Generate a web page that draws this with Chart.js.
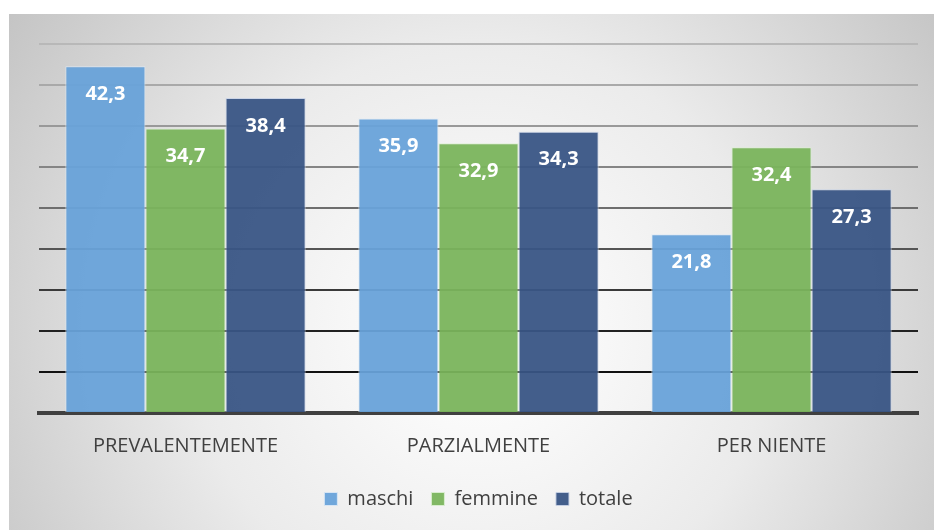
<!doctype html>
<html lang="it">
  <head>
    <meta charset="utf-8">
    <title>Grafico</title>
    <style>
      * { margin: 0; padding: 0; }
      body { width: 934px; height: 530px; background: #fff; overflow: hidden; }
      .chartBox { width: 934px; height: 530px; }
    </style>
  </head>
  <body>
    <div class="chartBox">
      <canvas id="myChart"></canvas>
    </div>
    <script src="https://cdn.jsdelivr.net/npm/chart.js/dist/chart.umd.min.js"></script>
    <script>
// data
const categories = ['PREVALENTEMENTE', 'PARZIALMENTE', 'PER NIENTE'];
const maschi = [42.3, 35.9, 21.8];
const femmine = [34.7, 32.9, 32.4];
const totale = [38.4, 34.3, 27.3];
const seriesNames = ['maschi', 'femmine', 'totale'];

const FONT = '"Open Sans", sans-serif';

// grey panel with a soft radial shade
const panelBackground = {
  id: 'panelBackground',
  beforeDraw(chart) {
    const ctx = chart.ctx;
    ctx.save();
    ctx.fillStyle = '#ffffff';
    ctx.fillRect(0, 0, chart.width, chart.height);
    const g = ctx.createRadialGradient(480, 330, 20, 480, 330, 620);
    g.addColorStop(0, '#ffffff');
    g.addColorStop(0.45, '#ebebeb');
    g.addColorStop(1, '#bdbdbd');
    ctx.fillStyle = g;
    ctx.fillRect(9, 14, chart.width - 9, chart.height - 14);
    ctx.restore();
  }
};

// value labels inside the top of each bar
const barValues = {
  id: 'barValues',
  afterDatasetsDraw(chart) {
    const ctx = chart.ctx;
    ctx.save();
    ctx.fillStyle = '#ffffff';
    ctx.font = 'bold 20px ' + FONT;
    ctx.textAlign = 'center';
    ctx.textBaseline = 'middle';
    chart.data.datasets.forEach((ds, i) => {
      chart.getDatasetMeta(i).data.forEach((bar, j) => {
        ctx.fillText(ds.data[j].toFixed(1).replace('.', ','), bar.x, bar.y + 28);
      });
    });
    ctx.restore();
  }
};

const gridColors = ['#000000', '#111111', '#222222', '#3a3a3a', '#555555', '#6e6e6e', '#858585', '#999999', '#a9a9a9', '#b8b8b8'];

const data = {
  labels: categories,
  datasets: [{
    label: seriesNames[0],
    data: maschi,
    backgroundColor: 'rgba(104, 162, 217, 0.95)',
    borderColor: 'rgba(220, 232, 245, 0.9)',
    borderWidth: 1
  }, {
    label: seriesNames[1],
    data: femmine,
    backgroundColor: 'rgba(122, 180, 92, 0.95)',
    borderColor: 'rgba(220, 240, 210, 0.9)',
    borderWidth: 1
  }, {
    label: seriesNames[2],
    data: totale,
    backgroundColor: 'rgba(57, 85, 133, 0.95)',
    borderColor: 'rgba(200, 210, 230, 0.9)',
    borderWidth: 1
  }]
};

const config = {
  type: 'bar',
  data,
  plugins: [panelBackground, barValues],
  options: {
    responsive: false,
    animation: false,
    layout: { padding: { left: 39, right: 16, top: 44, bottom: 11 } },
    datasets: {
      bar: { barPercentage: 1, categoryPercentage: 0.82 }
    },
    plugins: {
      tooltip: { enabled: false },
      legend: {
        position: 'bottom',
        labels: {
          boxWidth: 13,
          boxHeight: 13,
          padding: 18,
          color: '#404040',
          font: { family: FONT, size: 20 }
        }
      }
    },
    scales: {
      x: {
        grid: { display: false },
        border: { display: true, color: '#404040', width: 4 },
        ticks: {
          color: '#404040',
          padding: 13,
          font: { family: FONT, size: 20 }
        }
      },
      y: {
        min: 0,
        max: 45,
        ticks: { display: false, stepSize: 5 },
        border: { display: false },
        grid: {
          drawTicks: false,
          lineWidth: 2,
          color: ctx => gridColors[ctx.index] || '#bbbbbb'
        }
      }
    }
  }
};

const canvas = document.getElementById('myChart');
canvas.width = 934;
canvas.height = 530;
const myChart = new Chart(canvas, config);
    </script>
  </body>
</html>
